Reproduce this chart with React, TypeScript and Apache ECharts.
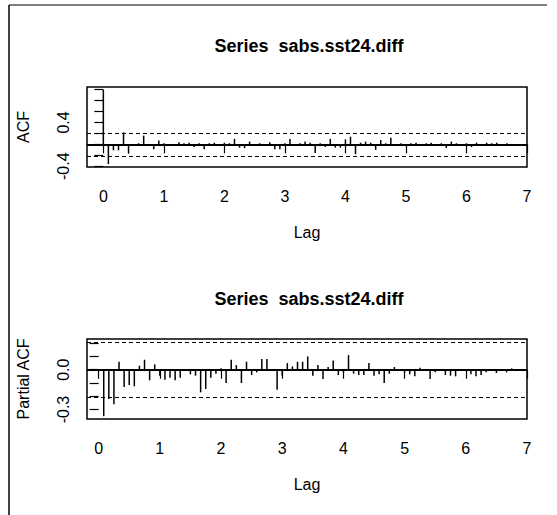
import React, { useEffect, useRef } from "react";
import * as echarts from "echarts";

const TITLE = "Series  sabs.sst24.diff";
const FREQ = 12;
const X_TICKS = [0, 1, 2, 3, 4, 5, 6, 7];

// ACF values for lags 0..81 (monthly lags, plotted as lag/12)
const acfValues = [
  1.0, -0.36, -0.11, -0.11, 0.22, -0.17, -0.03, 0.02, 0.16, -0.02,
  -0.09, 0.07, 0.02, -0.03, -0.03, 0.04, 0.02, 0.03, -0.05, 0.02,
  -0.09, 0.02, 0.03, -0.02, 0.03, 0.02, 0.1, -0.06, -0.07, 0.05,
  -0.02, 0.02, -0.02, 0.04, -0.09, -0.09, 0.02, 0.1, -0.03, 0.02,
  0.05, 0.03, -0.16, 0.02, -0.05, 0.1, -0.06, -0.06, 0.09, 0.14,
  -0.18, 0.03, 0.05, 0.03, -0.1, 0.08, 0.02, 0.12, -0.03, 0.02,
  -0.02, 0.02, 0.03, -0.02, 0.02, 0.03, -0.03, 0.02, -0.07, 0.05,
  0.02, -0.03, 0.02, -0.05, 0.03, -0.02, 0.03, 0.02, 0.03, -0.02,
  0.02, -0.02,
];

// PACF values for lags 1..81
const pacfValues = [
  -0.35, -0.22, -0.26, 0.06, -0.13, -0.115, -0.125, 0.03, 0.075, -0.08,
  0.04, -0.045, -0.075, -0.06, -0.08, -0.06, 0.005, -0.035, -0.045, -0.17,
  -0.145, -0.06, -0.03, 0.01, -0.1, 0.075, 0.035, -0.1, 0.06, -0.04,
  -0.02, 0.08, 0.08, 0.005, -0.15, -0.045, 0.05, 0.025, 0.06, 0.06,
  0.1, -0.045, 0.035, -0.07, 0.02, 0.07, -0.04, -0.02, 0.11, -0.03,
  -0.04, -0.04, 0.05, -0.045, -0.035, -0.1, -0.03, 0.02, 0.005, -0.02,
  -0.035, -0.05, 0.015, -0.005, -0.07, -0.02, 0.005, -0.04, -0.045, -0.05,
  0.005, -0.005, -0.035, -0.05, -0.04, -0.02, 0.005, -0.025, 0.005, -0.02,
  0.01,
];

const ACF_TICKS = [-0.4, -0.2, 0, 0.2, 0.4, 0.6, 0.8, 1.0];
const ACF_LABELS = [-0.4, 0.4];
const PACF_TICKS = [-0.3, -0.2, -0.1, 0, 0.1, 0.2];
const PACF_LABELS = [-0.3, 0];
const CI = 0.21;

const FONT = "Liberation Sans, Arial, sans-serif";

export default function App() {
  const ref = useRef<HTMLDivElement>(null);
  useEffect(() => {
    if (!ref.current) return;
    const chart = echarts.init(ref.current, null, { renderer: "svg" });
    const acfData = acfValues.map((v, i) => [i / FREQ, v]);
    const pacfData = pacfValues.map((v, i) => [(i + 1) / FREQ, v]);

    const xAxisBase = (gridIndex: number, min: number) => ({
      type: "value",
      gridIndex,
      min,
      max: 7,
      axisLine: { show: false },
      splitLine: { show: false },
      axisTick: {
        show: true,
        length: 9,
        customValues: X_TICKS,
        lineStyle: { color: "#000", width: 1.2 },
      },
      axisLabel: {
        customValues: X_TICKS,
        fontSize: 16,
        color: "#000",
        fontFamily: FONT,
        margin: 21,
        formatter: (v: number) => String(Math.round(v)),
      },
      name: "Lag",
      nameLocation: "middle",
      nameGap: 57,
      nameTextStyle: { fontSize: 16, color: "#000", fontFamily: FONT },
    });

    const yAxisBase = (
      gridIndex: number,
      min: number,
      max: number,
      ticks: number[],
      labels: number[],
      name: string
    ) => ({
      type: "value",
      gridIndex,
      min,
      max,
      axisLine: { show: false },
      splitLine: { show: false },
      axisTick: {
        show: true,
        length: 9,
        customValues: ticks,
        lineStyle: { color: "#000", width: 1.2 },
      },
      axisLabel: {
        customValues: labels,
        rotate: 90,
        fontSize: 16,
        color: "#000",
        fontFamily: FONT,
        margin: 16,
        formatter: (v: number) => v.toFixed(1),
      },
      name,
      nameLocation: "middle",
      nameRotate: 90,
      nameGap: 56,
      nameTextStyle: { fontSize: 16, color: "#000", fontFamily: FONT },
    });

    const markLines = {
      silent: true,
      symbol: "none",
      label: { show: false },
      animation: false,
      data: [
        { yAxis: 0, lineStyle: { type: "solid", width: 2, color: "#000" } },
        { yAxis: CI, lineStyle: { type: [4, 3], width: 1, color: "#000" } },
        { yAxis: -CI, lineStyle: { type: [4, 3], width: 1, color: "#000" } },
      ],
    };

    chart.setOption({
      animation: false,
      backgroundColor: "#fff",
      title: [
        {
          text: TITLE,
          left: 304,
          top: 32,
          textAlign: "center",
          textStyle: { fontSize: 18, fontWeight: "bold", color: "#000", fontFamily: FONT },
        },
        {
          text: TITLE,
          left: 304,
          top: 285,
          textAlign: "center",
          textStyle: { fontSize: 18, fontWeight: "bold", color: "#000", fontFamily: FONT },
        },
      ],
      grid: [
        { left: 87, top: 87, width: 440, height: 80, show: true, borderColor: "#000", borderWidth: 1.5, backgroundColor: "transparent" },
        { left: 87, top: 339, width: 440, height: 80, show: true, borderColor: "#000", borderWidth: 1.5, backgroundColor: "transparent" },
      ],
      xAxis: [xAxisBase(0, -0.27), xAxisBase(1, -0.19)],
      yAxis: [
        yAxisBase(0, -0.415, 1.05, ACF_TICKS, ACF_LABELS, "ACF"),
        yAxisBase(1, -0.371, 0.231, PACF_TICKS, PACF_LABELS, "Partial ACF"),
      ],
      series: [
        {
          type: "bar",
          xAxisIndex: 0,
          yAxisIndex: 0,
          data: acfData,
          barWidth: 1.5,
          itemStyle: { color: "#000" },
          markLine: markLines,
        },
        {
          type: "bar",
          xAxisIndex: 1,
          yAxisIndex: 1,
          data: pacfData,
          barWidth: 1.5,
          itemStyle: { color: "#000" },
          markLine: markLines,
        },
      ],
      graphic: [
        { type: "line", shape: { x1: 9, y1: 5, x2: 9, y2: 515 }, style: { stroke: "#000", lineWidth: 1.5 } },
        { type: "line", shape: { x1: 9, y1: 5, x2: 547, y2: 5 }, style: { stroke: "#000", lineWidth: 1 } },
      ],
    });
    return () => chart.dispose();
  }, []);
  return (
    <div
      ref={ref}
      style={{ position: "fixed", left: 0, top: 0, width: 557, height: 515 }}
    />
  );
}
